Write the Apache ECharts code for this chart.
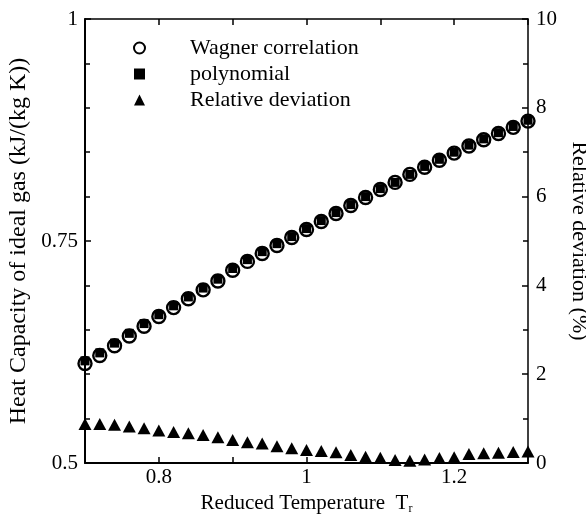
<!DOCTYPE html>
<html>
<head>
<meta charset="utf-8">
<script src="https://cdn.jsdelivr.net/npm/echarts@6/dist/echarts.min.js"></script>
<style>html,body{margin:0;padding:0;background:#fff}#c{width:586px;height:517px}</style>
</head>
<body>
<div id="c"></div>
<script>
var temps = [0.70,0.72,0.74,0.76,0.78,0.80,0.82,0.84,0.86,0.88,0.90,0.92,0.94,0.96,0.98,1.00,1.02,1.04,1.06,1.08,1.10,1.12,1.14,1.16,1.18,1.20,1.22,1.24,1.26,1.28,1.30];
var wagner = [0.612,0.621,0.632,0.643,0.654,0.665,0.675,0.685,0.695,0.705,0.717,0.727,0.736,0.745,0.754,0.763,0.772,0.781,0.790,0.799,0.808,0.816,0.825,0.833,0.841,0.849,0.857,0.864,0.871,0.878,0.885];
var poly = [0.615,0.624,0.635,0.646,0.657,0.667,0.677,0.687,0.697,0.707,0.719,0.729,0.738,0.747,0.755,0.764,0.773,0.782,0.791,0.800,0.809,0.816,0.825,0.834,0.842,0.850,0.858,0.865,0.872,0.879,0.886];
var deviation = [0.88,0.88,0.86,0.82,0.78,0.73,0.70,0.67,0.63,0.58,0.52,0.47,0.44,0.38,0.33,0.29,0.27,0.24,0.18,0.14,0.12,0.07,0.05,0.08,0.11,0.13,0.20,0.22,0.23,0.25,0.26];
var xLabels = ['0.8','1','1.2'];

function pairs(xs, ys){ return xs.map(function(x,i){ return [x, ys[i]]; }); }
var font = 'Liberation Serif';
var fs = 21;
var chart = echarts.init(document.getElementById('c'));
chart.setOption({
  animation: false,
  backgroundColor: '#fff',
  grid: {left: 85, right: 58, top: 19, bottom: 54, containLabel: false, outerBoundsMode: 'none'},
  legend: {
    orient: 'vertical', left: 128, top: 32, itemGap: 4,
    itemWidth: 11, itemHeight: 11,
    textStyle: {fontFamily: font, fontSize: 22, color: '#000', padding: [0,0,0,40]},
    data: ['Wagner correlation','polynomial','Relative deviation']
  },
  xAxis: [{
    type: 'value', min: 0.7, max: 1.3, interval: 0.1, position: 'bottom',
    name: '{a|Reduced Temperature  T}{s|r}', nameLocation: 'middle', nameGap: 26,
    nameTextStyle: {rich: {a: {fontFamily: font, fontSize: fs, color: '#000'}, s: {fontFamily: font, fontSize: 12, color: '#000', verticalAlign: 'bottom', padding: [10,0,0,0]}}},
    axisLine: {onZero: false, lineStyle: {color: '#000', width: 2}},
    axisTick: {inside: true, length: 6, lineStyle: {color: '#000', width: 1.5}},
    axisLabel: {fontFamily: font, fontSize: fs, color: '#000', margin: 4,
      formatter: function(v){ var s = String(Math.round(v*10)/10); return xLabels.indexOf(s) >= 0 ? s : ''; }},
    splitLine: {show: false}
  },{
    type: 'value', min: 0.7, max: 1.3, interval: 0.1, position: 'top',
    axisLine: {onZero: false, lineStyle: {color: '#000', width: 1.5}},
    axisTick: {inside: true, length: 6, lineStyle: {color: '#000', width: 1.5}},
    axisLabel: {show: false}, splitLine: {show: false}
  }],
  yAxis: [{
    type: 'value', min: 0.5, max: 1, interval: 0.25, position: 'left',
    name: 'Heat Capacity of ideal gas (kJ/(kg K))', nameLocation: 'middle', nameGap: 54,
    nameTextStyle: {fontFamily: font, fontSize: 24, color: '#000'},
    axisLine: {onZero: false, lineStyle: {color: '#000', width: 2}},
    axisTick: {inside: true, length: 6, lineStyle: {color: '#000', width: 1.5}},
    minorTick: {show: true, splitNumber: 5, length: 5, lineStyle: {color: '#000', width: 1.5}},
    axisLabel: {fontFamily: font, fontSize: fs, color: '#000', margin: 7},
    splitLine: {show: false}, minorSplitLine: {show: false}
  },{
    type: 'value', min: 0, max: 10, interval: 2, position: 'right',
    name: 'Relative deviation (%)', nameLocation: 'middle', nameGap: 33, nameRotate: -90,
    nameTextStyle: {fontFamily: font, fontSize: 22, color: '#000'},
    axisLine: {onZero: false, lineStyle: {color: '#000', width: 1.5}},
    axisTick: {inside: true, length: 6, lineStyle: {color: '#000', width: 1.5}},
    minorTick: {show: true, splitNumber: 2, length: 5, lineStyle: {color: '#000', width: 1.5}},
    axisLabel: {fontFamily: font, fontSize: fs, color: '#000', margin: 8},
    splitLine: {show: false}, minorSplitLine: {show: false}
  }],
  series: [{
    name: 'polynomial', type: 'scatter', xAxisIndex: 0, yAxisIndex: 0,
    symbol: 'rect', symbolSize: 9, itemStyle: {color: '#000', opacity: 1},
    data: pairs(temps, poly), z: 2
  },{
    name: 'Wagner correlation', type: 'scatter', xAxisIndex: 0, yAxisIndex: 0,
    symbol: 'circle', symbolSize: 13, itemStyle: {color: 'rgba(255,255,255,0)', borderColor: '#000', borderWidth: 2.4, opacity: 1},
    data: pairs(temps, wagner), z: 3
  },{
    name: 'Relative deviation', type: 'scatter', xAxisIndex: 0, yAxisIndex: 1,
    symbol: 'triangle', symbolSize: [13, 12], itemStyle: {color: '#000', opacity: 1},
    data: pairs(temps, deviation), z: 4
  }]
});
</script>
</body>
</html>
